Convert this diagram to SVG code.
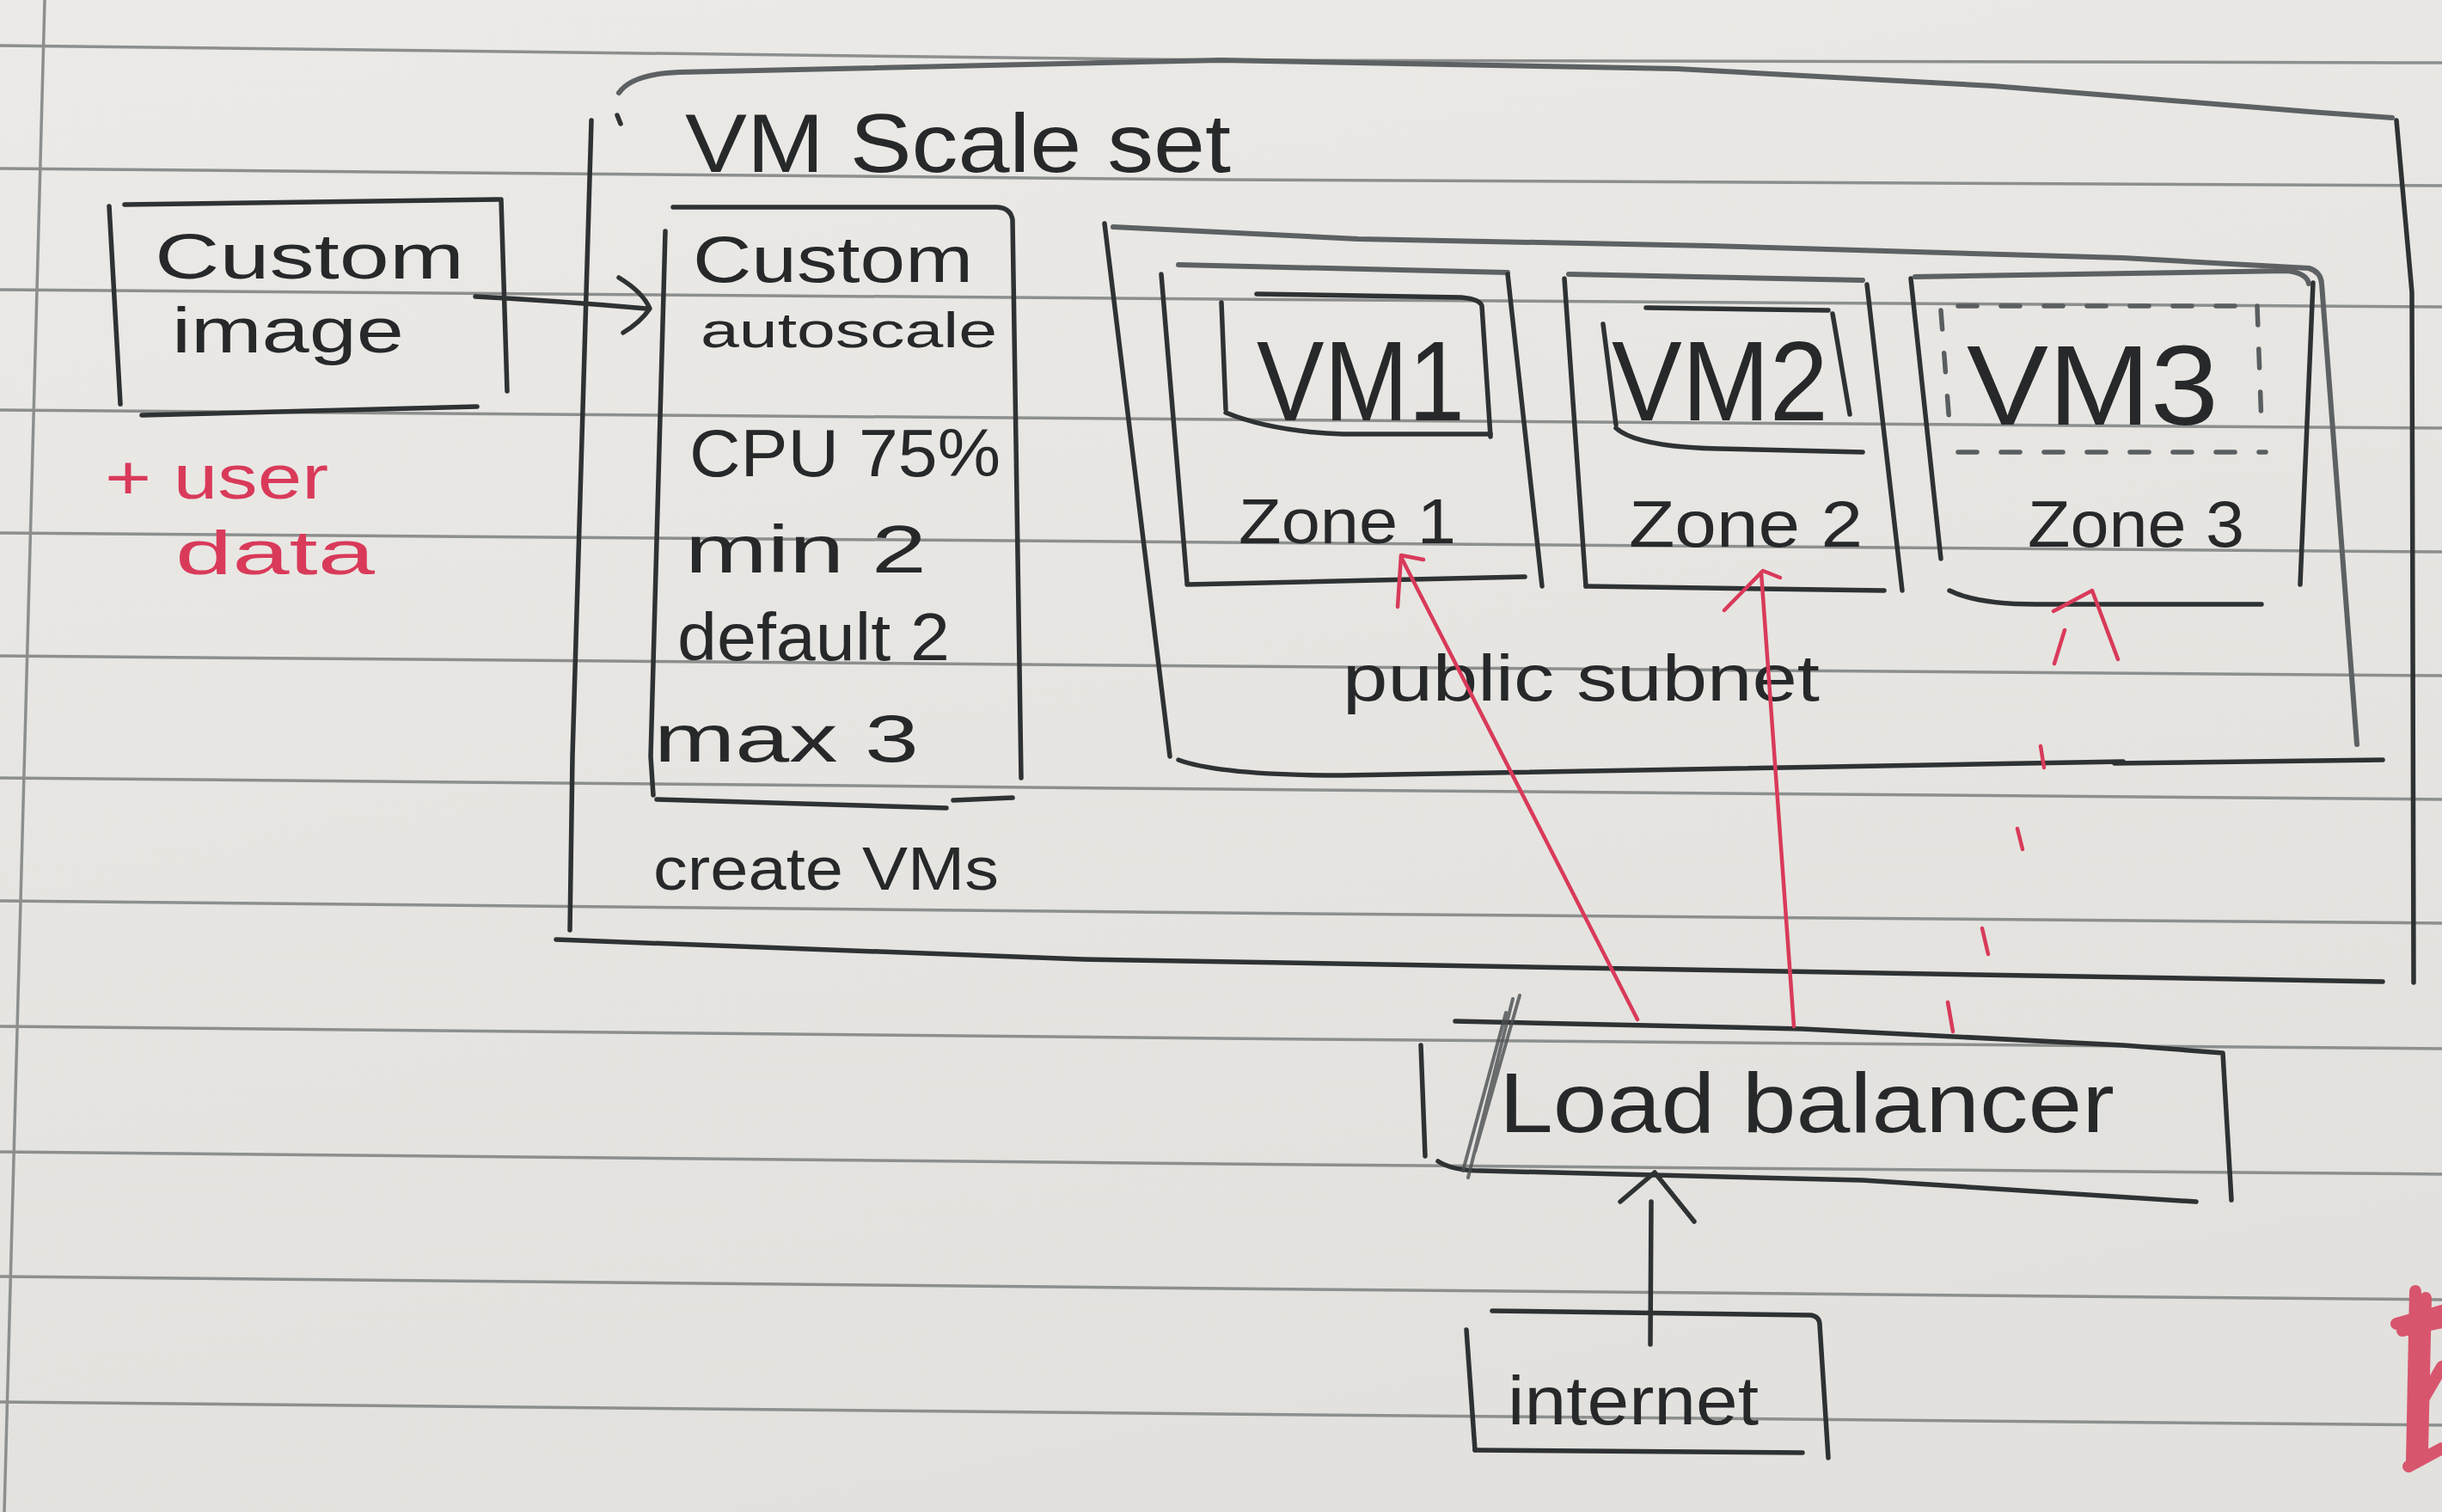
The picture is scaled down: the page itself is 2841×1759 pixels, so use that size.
<svg xmlns="http://www.w3.org/2000/svg" width="2841" height="1759" viewBox="0 0 2841 1759">
<defs>
<linearGradient id="paperg" x1="0" y1="0" x2="0.3" y2="1">
<stop offset="0" stop-color="#eceae7"/>
<stop offset="1" stop-color="#e2e1dd"/>
</linearGradient>
<style>
.rule{fill:none;stroke:#8c8f8e;stroke-width:3.5}
.pen{fill:none;stroke:#2f3233;stroke-width:5.5;stroke-linecap:round;stroke-linejoin:round}
.pencil{fill:none;stroke:#5d6163;stroke-width:6;stroke-linecap:round;stroke-linejoin:round}
.dash{fill:none;stroke:#5a5e60;stroke-width:5.5;stroke-linecap:round;stroke-dasharray:22 28}
.red{fill:none;stroke:#d93a5a;stroke-width:4.5;stroke-linecap:round;stroke-linejoin:round}
.redfat{fill:none;stroke:#d8556e;stroke-width:14;stroke-linecap:round;stroke-linejoin:round}
.t{font-family:"Liberation Sans",Arial,sans-serif;fill:#262829;font-weight:400}
.tr{font-family:"Liberation Sans",Arial,sans-serif;fill:#d93a5a;font-weight:400}
</style>
</defs>

<g id="paper">
<rect x="0" y="0" width="2841" height="1759" fill="url(#paperg)"/>
<path class="rule" d="M0,53 L1420,70 L2841,73"/>
<path class="rule" d="M0,196 L1420,209 L2841,216"/>
<path class="rule" d="M0,337 L1420,348 L2841,357"/>
<path class="rule" d="M0,477 L1420,488 L2841,498"/>
<path class="rule" d="M0,620 L1420,631 L2841,642"/>
<path class="rule" d="M0,763 L1420,775 L2841,786"/>
<path class="rule" d="M0,905 L1420,918 L2841,930"/>
<path class="rule" d="M0,1048 L1420,1062 L2841,1074"/>
<path class="rule" d="M0,1194 L1420,1208 L2841,1220"/>
<path class="rule" d="M0,1340 L1420,1354 L2841,1366"/>
<path class="rule" d="M0,1485 L1420,1499 L2841,1512"/>
<path class="rule" d="M0,1631 L1420,1645 L2841,1658"/>
<path class="rule" d="M52,0 L5,1759"/>
</g>

<g id="custom-image">
<path class="pen" d="M127,240 L140,470"/>
<path class="pen" d="M145,238 L580,232"/>
<path class="pen" d="M583,232 L590,455"/>
<path class="pen" d="M165,483 L555,473"/>
<text class="t" x="180" y="324" font-size="74" textLength="360" lengthAdjust="spacingAndGlyphs">Custom</text>
<text class="t" x="200" y="410" font-size="74" textLength="270" lengthAdjust="spacingAndGlyphs">image</text>
</g>

<g id="user-data">
<text class="tr" x="122" y="580" font-size="72" textLength="260" lengthAdjust="spacingAndGlyphs">+ user</text>
<text class="tr" x="204" y="668" font-size="72" textLength="232" lengthAdjust="spacingAndGlyphs">data</text>
</g>

<g id="vm-scale-set">
<path class="pencil" d="M720,108 Q735,86 790,84 L1420,70 L1951,80 L2319,100 L2687,130 L2783,137"/>
<path class="pen" d="M2788,140 L2806,340 L2808,1143"/>
<path class="pen" d="M688,140 L666,880 L663,1082"/>
<path class="pen" d="M647,1093 L1260,1116 L2772,1142"/>
<path class="pen" d="M718,134 L722,144"/>
<text class="t" x="797" y="200" font-size="96" textLength="635" lengthAdjust="spacingAndGlyphs">VM Scale set</text>
<text class="t" x="760" y="1035" font-size="70" textLength="402" lengthAdjust="spacingAndGlyphs">create VMs</text>
</g>

<g id="custom-autoscale">
<path class="pen" d="M783,241 L1160,241 Q1176,242 1178,256 L1188,905"/>
<path class="pen" d="M774,269 L757,880 L760,925"/>
<path class="pen" d="M764,930 L1101,940"/>
<path class="pen" d="M1109,931 L1178,928"/>
<text class="t" x="806" y="328" font-size="76" textLength="326" lengthAdjust="spacingAndGlyphs">Custom</text>
<text class="t" x="815" y="404" font-size="58" textLength="345" lengthAdjust="spacingAndGlyphs">autoscale</text>
<text class="t" x="802" y="554" font-size="78" textLength="362" lengthAdjust="spacingAndGlyphs">CPU 75%</text>
<text class="t" x="797" y="666" font-size="78" textLength="281" lengthAdjust="spacingAndGlyphs">min 2</text>
<text class="t" x="788" y="768" font-size="78" textLength="317" lengthAdjust="spacingAndGlyphs">default 2</text>
<text class="t" x="761" y="886" font-size="78" textLength="308" lengthAdjust="spacingAndGlyphs">max 3</text>
</g>

<g id="public-subnet">
<path class="pencil" d="M1295,264 L1580,278 L1990,286 L2470,300 L2686,312 Q2700,316 2701,330 L2742,866"/>
<path class="pen" d="M1285,260 L1361,880"/>
<path class="pen" d="M1371,884 Q1420,902 1562,902 L2470,886"/>
<path class="pen" d="M2460,888 L2772,884"/>
<text class="t" x="1562" y="815" font-size="76" textLength="555" lengthAdjust="spacingAndGlyphs">public subnet</text>
</g>

<g id="zone-1">
<path class="pencil" d="M1371,308 L1754,317"/>
<path class="pen" d="M1351,319 L1381,678"/>
<path class="pen" d="M1754,319 L1794,682"/>
<path class="pen" d="M1381,680 L1774,671"/>
<text class="t" x="1441" y="632" font-size="74" textLength="253" lengthAdjust="spacingAndGlyphs">Zone 1</text>
</g>

<g id="vm1">
<path class="pen" d="M1421,352 L1426,476"/>
<path class="pen" d="M1462,342 L1700,346 Q1722,348 1724,356 L1734,508"/>
<path class="pen" d="M1426,480 Q1480,502 1562,505 L1734,505"/>
<text class="t" x="1462" y="489" font-size="132" textLength="242" lengthAdjust="spacingAndGlyphs">VM1</text>
</g>

<g id="zone-2">
<path class="pencil" d="M1825,319 L2167,326"/>
<path class="pen" d="M1820,324 L1845,682"/>
<path class="pen" d="M2172,331 L2213,687"/>
<path class="pen" d="M1845,682 L2192,687"/>
<text class="t" x="1895" y="636" font-size="76" textLength="272" lengthAdjust="spacingAndGlyphs">Zone 2</text>
</g>

<g id="vm2">
<path class="pen" d="M1865,377 L1880,494"/>
<path class="pen" d="M1915,358 L2127,361"/>
<path class="pen" d="M2132,365 L2152,482"/>
<path class="pen" d="M1880,498 Q1905,520 2000,522 L2167,526"/>
<text class="t" x="1875" y="489" font-size="132" textLength="252" lengthAdjust="spacingAndGlyphs">VM2</text>
</g>

<g id="zone-3">
<path class="pencil" d="M2228,322 L2661,315 Q2684,318 2686,330"/>
<path class="pen" d="M2223,324 L2258,650"/>
<path class="pen" d="M2691,329 L2676,680"/>
<path class="pen" d="M2268,687 Q2300,703 2369,703 L2631,703"/>
<text class="t" x="2359" y="636" font-size="76" textLength="252" lengthAdjust="spacingAndGlyphs">Zone 3</text>
</g>

<g id="vm3">
<path class="dash" d="M2278,356 L2626,356"/>
<path class="dash" d="M2258,361 L2268,494"/>
<path class="dash" d="M2626,356 L2631,494"/>
<path class="dash" d="M2278,526 L2636,526"/>
<text class="t" x="2288" y="494" font-size="132" textLength="293" lengthAdjust="spacingAndGlyphs">VM3</text>
</g>

<g id="load-balancer">
<path class="pen" d="M1693,1188 L2097,1197 L2470,1216 L2586,1225 L2596,1396"/>
<path class="pen" d="M1653,1216 L1658,1345"/>
<path class="pen" d="M1673,1351 Q1690,1362 1724,1362 L2167,1373 L2555,1398"/>
<path d="M1768,1158 L1716,1340 M1760,1162 L1708,1370 M1752,1178 L1702,1362" fill="none" stroke="#4a4d50" stroke-width="4" stroke-linecap="round" opacity="0.8"/>
<text class="t" x="1744" y="1317" font-size="98" textLength="716" lengthAdjust="spacingAndGlyphs">Load balancer</text>
</g>

<g id="internet">
<path class="pen" d="M1736,1525 L2107,1530 Q2117,1532 2117,1541 L2127,1696"/>
<path class="pen" d="M1706,1547 L1716,1687"/>
<path class="pen" d="M1716,1687 L2097,1690"/>
<text class="t" x="1754" y="1657" font-size="80" textLength="292" lengthAdjust="spacingAndGlyphs">internet</text>
</g>

<g id="connectors">
<path class="pen" d="M553,345 Q650,350 752,359"/>
<path class="pen" d="M720,323 Q748,340 756,359 Q745,375 725,387"/>
<path class="pen" d="M1920,1564 L1921,1398"/>
<path class="pen" d="M1885,1398 L1925,1364 L1971,1421"/>
<path class="red" d="M1905,1186 L1630,648"/>
<path class="red" d="M1626,706 L1630,646 L1656,651"/>
<path class="red" d="M2087,1194 L2049,666"/>
<path class="red" d="M2006,710 L2051,664 L2071,672"/>
<path class="red" d="M2266,1166 L2272,1200 M2306,1080 L2313,1110 M2347,964 L2353,988 M2374,868 L2378,893 M2402,733 L2390,772"/>
<path class="red" d="M2389,711 L2434,687 L2464,767"/>
</g>

<g id="red-mark">
<path class="redfat" d="M2810,1502 L2806,1700 M2822,1510 L2818,1690 M2788,1540 L2841,1525 M2795,1548 L2841,1538 M2812,1640 L2841,1590 M2802,1706 L2841,1685"/>
</g>
</svg>
